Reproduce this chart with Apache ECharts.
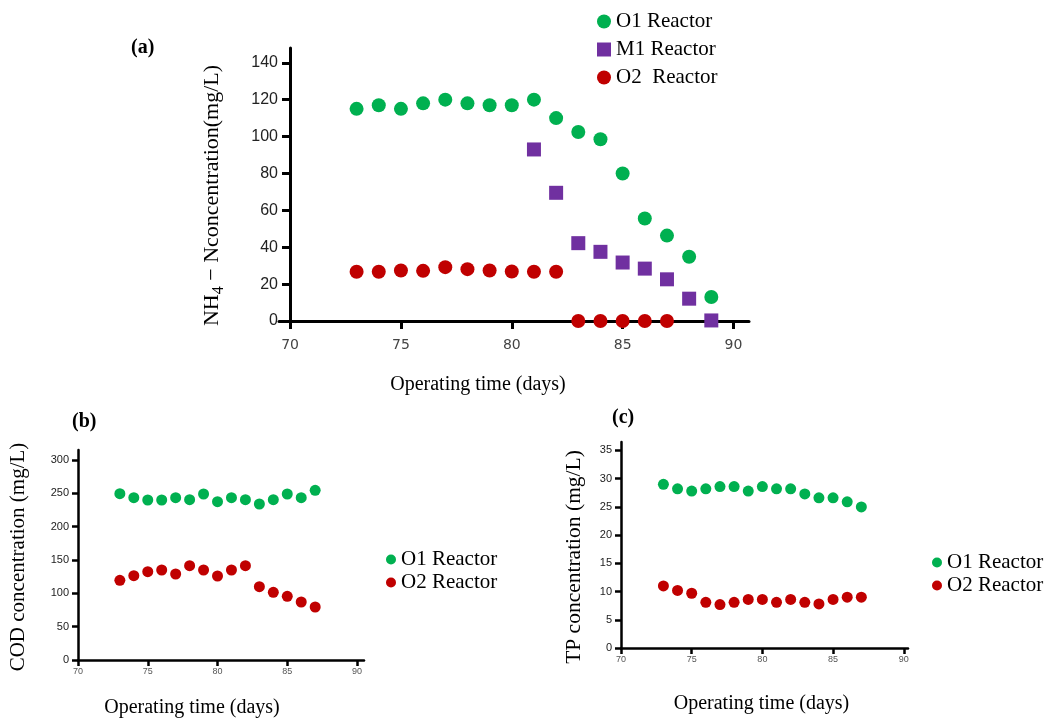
<!DOCTYPE html>
<html>
<head>
<meta charset="utf-8">
<script src="https://cdn.jsdelivr.net/npm/echarts@6/dist/echarts.min.js"></script>
<style>
html,body{margin:0;padding:0;background:#fff;}
#chart{width:1047px;height:720px;}
</style>
</head>
<body>
<div id="chart"></div>
<script>
// ---- data ----
const daysA = [73,74,75,76,77,78,79,80,81,82,83,84,85,86,87,88,89];
const nh4O1 = [115,117,115,118,120,118,117,117,120,110,102.5,98.5,80,55.6,46.3,34.8,13];
const daysM1 = [81,82,83,84,85,86,87,88,89];
const nh4M1 = [93,69.5,42.2,37.5,31.7,28.4,22.6,12.1,0.3];
const daysO2a = [73,74,75,76,77,78,79,80,81,82,83,84,85,86,87];
const nh4O2 = [26.7,26.7,27.4,27.2,29.2,28.1,27.4,26.8,26.7,26.7,0,0,0,0,0];

const daysB = [73,74,75,76,77,78,79,80,81,82,83,84,85,86,87];
const codO1 = [249.5,243.5,240,240,243.5,240.5,249,237.5,243.5,240.5,234,240.5,249,243.5,254.5];
const codO2 = [119.5,126.5,132.5,135,129,141.5,135,126,135,141.5,110,101.5,95.5,87,79.5];

const tpO1 = [29.0,28.2,27.8,28.2,28.6,28.6,27.8,28.6,28.2,28.2,27.3,26.6,26.6,25.9,25.0];
const tpO2 = [11.0,10.2,9.7,8.1,7.7,8.1,8.6,8.6,8.1,8.6,8.1,7.8,8.6,9.0,9.0];

const xTicks = [70,75,80,85,90];
const yTicksA = [0,20,40,60,80,100,120,140];
const yTicksB = [0,50,100,150,200,250,300];
const yTicksC = [0,5,10,15,20,25,30,35];

const seriesNames = {O1:'O1 Reactor', M1:'M1 Reactor', O2a:'O2  Reactor', O2:'O2 Reactor'};
const titles = ['(a)','(b)','(c)'];
const xName = 'Operating time (days)';

// ---- styling ----
const GREEN = '#00B050', PURPLE = '#7030A0', RED = '#C00000';
const SERIF = '"Liberation Serif","Times New Roman",serif';
const SANS = '"Liberation Sans",Arial,sans-serif';

function pairs(xs, ys){ return xs.map((x,i)=>[x, ys[i]]); }

function xAxisCfg(gi, min, max, big, gap, pad){
  return {
    type:'value', gridIndex:gi, min:min, max:max,
    splitLine:{show:false},
    axisLine:{show:true, onZero:false, lineStyle:{color:'#000', width: big?3:2.5}},
    axisTick:{show:true, inside:false, length: big?8:6, customValues:xTicks, lineStyle:{color:'#000', width: big?3:2.5}},
    axisLabel:{customValues:xTicks, margin: big?17:7, fontSize: big?14:9,
      fontFamily: big?'"DejaVu Sans",sans-serif':SANS, color: big?'#444':'#555'},
    name:xName, nameLocation:'middle',
    nameGap: gap,
    nameTextStyle:{fontFamily:SERIF, fontSize:20, color:'#000', padding: pad}
  };
}
function yAxisCfg(gi, max, ticks, big, name, gap, offset, fs, pad){
  return {
    type:'value', gridIndex:gi, min:0, max:max, offset:offset||0,
    splitLine:{show:false},
    axisLine:{show:true, onZero:false, lineStyle:{color:'#000', width: big?3:2.5}},
    axisTick:{show:true, length: big?8:6, customValues:ticks, lineStyle:{color:'#000', width: big?3:2.5}},
    axisLabel:{customValues:ticks, margin: big?12:9, fontSize: big?16:11, fontFamily:SANS, color:'#222'},
    name:name, nameLocation:'middle', nameGap:gap,
    nameTextStyle:{fontFamily:SERIF, fontSize:fs, color:'#000', padding:pad,
      rich:{
        m:{fontFamily:SERIF, fontSize:fs, color:'#000', lineHeight:30},
        s:{fontFamily:SERIF, fontSize:16, color:'#000', lineHeight:16, verticalAlign:'bottom'}
      }}
  };
}

const option = {
  backgroundColor:'#fff',
  animation:false,
  title: [
    {text:titles[0], left:126, top:33, textStyle:{fontFamily:SERIF, fontWeight:'bold', fontSize:20, color:'#000'}},
    {text:titles[1], left:67, top:407, textStyle:{fontFamily:SERIF, fontWeight:'bold', fontSize:20, color:'#000'}},
    {text:titles[2], left:607, top:403, textStyle:{fontFamily:SERIF, fontWeight:'bold', fontSize:20, color:'#000'}}
  ],
  legend: [
    {orient:'vertical', left:592, top:6, itemWidth:14, itemHeight:14, itemGap:7,
      textStyle:{fontFamily:SERIF, fontSize:21, color:'#000'},
      data:[{name:seriesNames.O1, icon:'circle'},{name:seriesNames.M1, icon:'rect'},{name:seriesNames.O2a, icon:'circle'}]},
    {orient:'vertical', left:381, top:544, itemWidth:10, itemHeight:10, itemGap:2,
      textStyle:{fontFamily:SERIF, fontSize:21, color:'#000'},
      data:[{name:seriesNames.O1, icon:'circle'},{name:seriesNames.O2, icon:'circle'}]},
    {orient:'vertical', left:927, top:547, itemWidth:10, itemHeight:10, itemGap:2,
      textStyle:{fontFamily:SERIF, fontSize:21, color:'#000'},
      data:[{name:seriesNames.O1, icon:'circle'},{name:seriesNames.O2, icon:'circle'}]}
  ],
  grid: [
    {left:279, top:48, width:470, height:273},
    {left:78, top:450, width:286, height:210},
    {left:621, top:442, width:287, height:206}
  ],
  xAxis: [
    xAxisCfg(0, 69.5, 90.7, true, 54, [0,72,0,0]),
    xAxisCfg(1, 70, 90.5, false, 38, [0,58,0,0]),
    xAxisCfg(2, 70, 90.3, false, 46, [0,6,0,0])
  ],
  yAxis: [
    yAxisCfg(0, 148, yTicksA, true, '{m|NH}{s|4}{m| − Nconcentration(mg/L)}', 63, -11, 22, [0,22,0,0]),
    yAxisCfg(1, 315, yTicksB, false, 'COD concentration (mg/L)', 49, 0, 21, [0,4,0,0]),
    yAxisCfg(2, 36.5, yTicksC, false, 'TP concentration (mg/L)', 36, 0, 21.5, [0,24,0,0])
  ],
  series: [
    {type:'scatter', name:seriesNames.O1, xAxisIndex:0, yAxisIndex:0, symbol:'circle', symbolSize:14, clip:false,
      itemStyle:{color:GREEN, opacity:1}, data:pairs(daysA, nh4O1)},
    {type:'scatter', name:seriesNames.M1, xAxisIndex:0, yAxisIndex:0, symbol:'rect', symbolSize:14, clip:false,
      itemStyle:{color:PURPLE, opacity:1}, data:pairs(daysM1, nh4M1)},
    {type:'scatter', name:seriesNames.O2a, xAxisIndex:0, yAxisIndex:0, symbol:'circle', symbolSize:14, clip:false,
      itemStyle:{color:RED, opacity:1}, data:pairs(daysO2a, nh4O2)},
    {type:'scatter', name:seriesNames.O1, xAxisIndex:1, yAxisIndex:1, symbol:'circle', symbolSize:11, clip:false,
      itemStyle:{color:GREEN, opacity:1}, data:pairs(daysB, codO1)},
    {type:'scatter', name:seriesNames.O2, xAxisIndex:1, yAxisIndex:1, symbol:'circle', symbolSize:11, clip:false,
      itemStyle:{color:RED, opacity:1}, data:pairs(daysB, codO2)},
    {type:'scatter', name:seriesNames.O1, xAxisIndex:2, yAxisIndex:2, symbol:'circle', symbolSize:11, clip:false,
      itemStyle:{color:GREEN, opacity:1}, data:pairs(daysB, tpO1)},
    {type:'scatter', name:seriesNames.O2, xAxisIndex:2, yAxisIndex:2, symbol:'circle', symbolSize:11, clip:false,
      itemStyle:{color:RED, opacity:1}, data:pairs(daysB, tpO2)}
  ]
};
const chart = echarts.init(document.getElementById('chart'), null, {renderer:'canvas'});
chart.setOption(option);
</script>
</body>
</html>
